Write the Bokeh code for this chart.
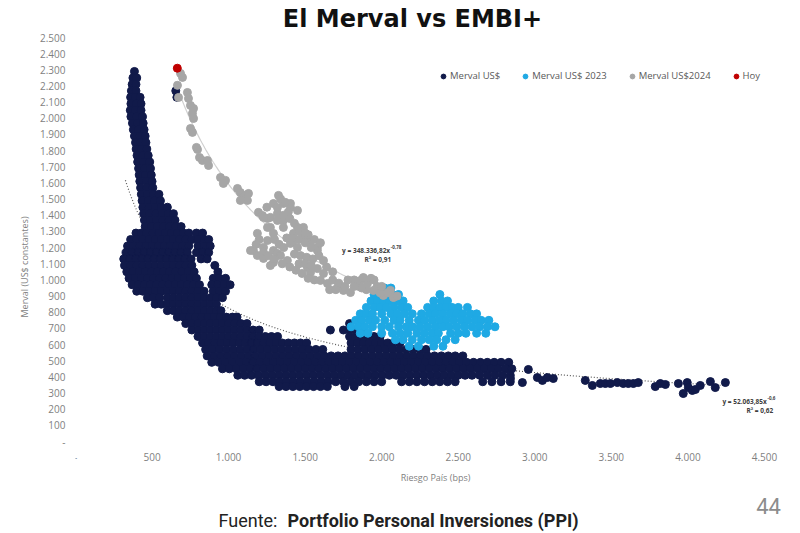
import numpy as np
from bokeh.plotting import figure
from bokeh.models import Range1d, FixedTicker, Label, Legend, LegendItem
from bokeh.embed import file_html
from bokeh.resources import INLINE

# ---------------- data ----------------
TITLE = "El Merval vs EMBI+"
X_LABEL = "Riesgo País (bps)"
Y_LABEL = "Merval (US$ constantes)"
SOURCE_PREFIX = "Fuente:"
SOURCE_NAME = "Portfolio Personal Inversiones (PPI)"
PAGE_NUMBER = "44"
SERIES_NAMES = ["Merval US$", "Merval US$ 2023", "Merval US$2024", "Hoy"]

x_ticks = [0, 500, 1000, 1500, 2000, 2500, 3000, 3500, 4000, 4500]
x_tick_labels = ["-", "500", "1.000", "1.500", "2.000", "2.500", "3.000", "3.500", "4.000", "4.500"]
y_ticks = list(range(0, 2600, 100))
y_tick_labels = ["-", "100", "200", "300", "400", "500", "600", "700", "800", "900",
                 "1.000", "1.100", "1.200", "1.300", "1.400", "1.500", "1.600", "1.700",
                 "1.800", "1.900", "2.000", "2.100", "2.200", "2.300", "2.400", "2.500"]

# Merval US$ (dark): riesgo-país values grouped by Merval level
merval_levels = [2290, 2250, 2210, 2170, 2130, 2090, 2050, 2010, 1970, 1930, 1890, 1850,
                 1810, 1770, 1730, 1690, 1650, 1610, 1570, 1530, 1490, 1450, 1410, 1370,
                 1330, 1290, 1250, 1210, 1170, 1130, 1090, 1050, 1010, 970, 930, 890, 850,
                 810, 770, 730, 690, 650, 610, 570, 530, 490, 450, 410, 370, 340]
merval_rows = [
    [385],
    [375, 400],
    [370, 395],
    [365, 395, 655],
    [360, 392, 422, 662],
    [362, 397, 428],
    [358, 392, 428],
    [362, 400, 438],
    [372, 405, 442],
    [378, 412, 448],
    [385, 420, 455],
    [392, 426, 460],
    [396, 432, 466],
    [402, 440, 475],
    [406, 446, 485],
    [412, 452, 490],
    [416, 456, 495],
    [420, 462, 500],
    [425, 466, 505],
    [430, 470, 510, 545],
    [435, 475, 515, 555],
    [440, 480, 520, 560, 600],
    [445, 485, 525, 565, 605, 640],
    [450, 490, 530, 570, 610, 650],
    [455, 495, 535, 575, 615, 655, 690],
    [395, 430, 465, 505, 545, 585, 625, 665, 705, 740, 790, 830],
    [360, 400, 440, 480, 520, 560, 600, 640, 680, 720, 760, 800, 840, 870],
    [340, 380, 420, 460, 500, 540, 580, 620, 660, 700, 740, 800, 840, 880],
    [330, 370, 410, 450, 490, 530, 570, 610, 650, 690, 730, 790, 830, 870],
    [315, 355, 395, 435, 475, 515, 555, 595, 635, 675, 715, 755, 820, 860],
    [320, 360, 400, 440, 480, 520, 560, 600, 640, 680, 720, 760, 910],
    [335, 375, 415, 455, 495, 535, 575, 615, 655, 695, 735, 775, 930],
    [350, 390, 430, 470, 510, 550, 590, 630, 670, 710, 750, 790, 900, 940, 980],
    [370, 410, 450, 490, 530, 570, 610, 650, 690, 730, 770, 810, 890, 930, 970, 1010],
    [400, 440, 480, 520, 560, 600, 640, 680, 720, 760, 800, 840, 900, 940, 980],
    [470, 510, 550, 600, 640, 680, 720, 760, 800, 840, 880, 920, 960],
    [520, 560, 600, 640, 680, 720, 760, 800, 840, 880, 920],
    [600, 640, 680, 720, 760, 800, 840, 880, 920, 950],
    [665, 705, 745, 785, 825, 865, 905, 945, 985, 1025, 1055],
    [720, 760, 800, 840, 880, 920, 960, 1000, 1040, 1080, 1120, 1790],
    [760, 800, 840, 880, 920, 960, 1000, 1040, 1080, 1120, 1160, 1200, 1665, 1750, 1790, 1830, 1870],
    [800, 840, 880, 920, 960, 1000, 1040, 1080, 1120, 1160, 1200, 1240, 1280, 1320,
     1790, 1830, 1870, 1910, 1950, 1990],
    [830, 870, 910, 950, 990, 1030, 1070, 1110, 1150, 1190, 1230, 1270, 1310, 1350, 1390,
     1430, 1470, 1510, 1800, 1840, 1880, 1920, 1960, 2000, 2040, 2080, 2120],
    [850, 895, 940, 985, 1030, 1075, 1120, 1165, 1210, 1255, 1300, 1345, 1390, 1435, 1480,
     1525, 1570, 1615, 1800, 1845, 1890, 1935, 1980, 2025, 2070, 2115, 2160, 2205, 2250, 2290],
    [860, 905, 950, 995, 1040, 1085, 1130, 1175, 1220, 1265, 1310, 1355, 1400, 1445, 1490,
     1535, 1580, 1625, 1670, 1715, 1760, 1805, 1850, 1895, 1940, 1985, 2030, 2075, 2120,
     2165, 2210, 2255, 2300, 2345, 2390, 2435, 2480, 2530],
    [890, 935, 980, 1025, 1070, 1115, 1160, 1205, 1250, 1295, 1340, 1385, 1430, 1475, 1520,
     1565, 1610, 1655, 1700, 1745, 1790, 1835, 1880, 1925, 1970, 2015, 2060, 2105, 2150,
     2195, 2240, 2285, 2330, 2375, 2420, 2465, 2510, 2555, 2600, 2645, 2690, 2735, 2780, 2830],
    [960, 1005, 1050, 1095, 1140, 1185, 1230, 1275, 1320, 1365, 1410, 1455, 1500, 1545,
     1590, 1635, 1680, 1725, 1770, 1815, 1860, 1905, 1950, 1995, 2040, 2085, 2130, 2175,
     2220, 2265, 2310, 2355, 2400, 2445, 2490, 2535, 2580, 2625, 2670, 2715, 2760, 2810, 2850],
    [1060, 1105, 1150, 1195, 1240, 1285, 1330, 1375, 1420, 1465, 1510, 1555, 1600, 1645,
     1690, 1735, 1780, 1825, 1870, 1915, 1960, 2005, 2050, 2095, 2140, 2185, 2230, 2275,
     2320, 2365, 2410, 2455, 2500, 2545, 2590, 2640, 2690, 2740, 2790, 2840],
    [1200, 1245, 1290, 1335, 1380, 1425, 1470, 1515, 1560, 1605, 1650, 1700, 1750, 1800,
     1850, 1900, 1950, 2000, 2130, 2180, 2230, 2280, 2330, 2380, 2430, 2480, 2660, 2720,
     2780, 2840],
    [1330, 1375, 1420, 1465, 1510, 1555, 1600, 1645, 1760, 1820],
]
# Merval US$ tail (high riesgo país)
merval_tail_x = [2841, 2919, 2958, 3017, 3050, 3082, 3121, 3330, 3376, 3428, 3461, 3494,
                 3539, 3578, 3611, 3644, 3676, 3787, 3820, 3853, 3938, 3970, 3996, 4003,
                 4029, 4049, 4081, 4147, 4179, 4245]
merval_tail_y = [390, 365, 446, 396, 378, 396, 390, 378, 347, 359, 359, 359,
                 365, 359, 359, 359, 365, 340, 359, 353, 359, 297, 365, 334,
                 316, 322, 347, 371, 334, 365]

# Merval US$ 2023 (light blue)
m2023_levels = [950, 910, 870, 830, 790, 750, 710, 670, 630, 590]
m2023_rows = [
    [1980, 2020, 2060],
    [1950, 1990, 2030, 2070, 2110, 2380],
    [1930, 1970, 2010, 2050, 2100, 2140, 2340, 2390, 2430],
    [1900, 1950, 1990, 2030, 2080, 2130, 2170, 2300, 2340, 2380, 2420, 2460, 2500, 2560],
    [1860, 1900, 1940, 2000, 2060, 2100, 2150, 2200, 2260, 2310, 2350, 2400, 2450, 2490,
     2530, 2580, 2620],
    [1830, 1870, 1920, 1960, 2020, 2080, 2120, 2180, 2240, 2280, 2330, 2380, 2420, 2470,
     2520, 2560, 2610, 2650, 2700],
    [1800, 1850, 1890, 1940, 2000, 2050, 2110, 2160, 2200, 2250, 2300, 2350, 2400, 2440,
     2490, 2540, 2590, 2640, 2690, 2740],
    [1860, 1910, 2000, 2070, 2120, 2170, 2230, 2280, 2330, 2370, 2450, 2500, 2550, 2620, 2680],
    [2090, 2140, 2200, 2260, 2310, 2360, 2420, 2480],
    [2180, 2240, 2340, 2400],
]

# Merval US$2024 (gray)
m2024_x = [686, 699, 666, 673, 731, 738, 751, 771, 764, 771, 751, 764, 790, 797, 810, 829,
           862, 869, 947, 980, 966, 1058, 1077, 1097, 1110, 1130, 1123, 1077, 1195, 1221,
           1254, 1273, 1326, 1293, 1358, 1404, 1319, 1404, 1319, 1450, 1319, 1358, 1254,
           1273, 1358, 1450, 1489, 1293, 1188, 1424, 1489, 1254, 1535, 1404, 1580, 1450,
           1228, 1162, 1143, 1293, 1580, 1228, 1319, 1188, 1339, 1228, 1384, 1293, 1273,
           1515, 1535, 1600, 1646, 1711, 1750, 1796, 1861, 1907, 1946, 2011, 2077, 1880,
           2057, 1228, 1480, 1520, 1560, 1600, 1640, 1680, 1820, 1850, 1900, 1930, 1970,
           1990, 1480, 1520, 1560, 1660, 1380, 1420, 1250,
           1340, 1370, 1390, 1360, 1400, 1430, 1460, 1500, 1420, 1460, 1500, 1540, 1430,
           1470, 1510, 1550, 1590, 1620, 1460, 1500, 1540, 1580, 1620, 1300, 1330, 1360,
           1200, 1180, 1260, 1300, 1350, 1400, 1440, 1680, 1720, 1760, 1700, 1780, 1820,
           1870, 1950, 2000, 2040, 2100]
m2024_y = [2278, 2253, 2204, 2129, 2160, 2123, 2080, 2061, 2030, 1999, 1937, 1913, 1820,
           1807, 1758, 1739, 1739, 1708, 1634, 1616, 1597, 1566, 1541, 1510, 1523, 1535,
           1492, 1492, 1418, 1399, 1380, 1387, 1523, 1473, 1473, 1473, 1448, 1448, 1411,
           1430, 1368, 1368, 1325, 1325, 1325, 1325, 1325, 1288, 1288, 1288, 1263, 1244,
           1244, 1226, 1201, 1201, 1201, 1182, 1182, 1182, 1182, 1170, 1164, 1151, 1151,
           1133, 1120, 1108, 1089, 1077, 1046, 997, 978, 953, 935, 922, 997, 978, 935, 904,
           891, 1015, 935, 1387, 1300, 1280, 1250, 1230, 1080, 1050, 1000, 960, 940, 1010,
           960, 920, 1040, 1010, 1000, 940, 1260, 1240, 1450,
           1500, 1480, 1420, 1400, 1380, 1350, 1300, 1290, 1260, 1250, 1230, 1200, 1160,
           1150, 1140, 1130, 1150, 1120, 1100, 1100, 1090, 1070, 1040, 1250, 1220, 1200,
           1250, 1220, 1150, 1130, 1100, 1080, 1060, 1000, 980, 960, 940, 1000, 960,
           950, 1000, 960, 920, 900]

# Hoy (today)
hoy_x = [665]
hoy_y = [2310]

# Power trend lines shown on the chart: y = a * x^b
trend_dark_a, trend_dark_b = 52063.85, -0.60
trend_dark_range = (326, 4250)
trend_gray_a, trend_gray_b = 348336.82, -0.78
trend_gray_range = (650, 1900)

# ---------------- build ----------------
def expand(levels, rows):
    xs, ys = [], []
    for lvl, row in zip(levels, rows):
        xs.extend(row)
        ys.extend([lvl] * len(row))
    return xs, ys

dark_x, dark_y = expand(merval_levels, merval_rows)
dark_x += merval_tail_x
dark_y += merval_tail_y
blue_x, blue_y = expand(m2023_levels, m2023_rows)

DARK = "#111a4a"
BLUE = "#1fa9e4"
GRAY = "#a6a6a6"
RED = "#c00000"
TICK_GRAY = "#7f7f7f"
FONT = "Open Sans"
MS = 8

# frame spans the full height so that title and source can sit inside it
p = figure(width=800, height=533, output_backend="svg", toolbar_location=None,
           x_range=Range1d(0, 4703), y_range=Range1d(-569, 2729),
           min_border_left=75, min_border_right=5, min_border_top=0, min_border_bottom=0)
p.outline_line_color = None
p.xgrid.grid_line_color = None
p.ygrid.grid_line_color = None
p.background_fill_color = "white"
p.border_fill_color = "white"

for ax in (p.xaxis[0], p.yaxis[0]):
    ax.axis_line_color = None
    ax.major_tick_line_color = None
    ax.minor_tick_line_color = None
    ax.major_tick_out = 0
    ax.major_tick_in = 0
    ax.minor_tick_out = 0
    ax.major_label_text_color = TICK_GRAY
    ax.major_label_text_font = FONT
    ax.major_label_text_font_size = "10px"
    ax.axis_label_text_color = TICK_GRAY
    ax.axis_label_text_font = FONT
    ax.axis_label_text_font_size = "9px"
    ax.axis_label_text_font_style = "normal"

p.xaxis.fixed_location = 0
p.xaxis.ticker = FixedTicker(ticks=x_ticks)
p.xaxis.major_label_overrides = dict(zip(x_ticks, x_tick_labels))
p.xaxis.axis_label = X_LABEL
p.xaxis.major_label_standoff = 11
p.xaxis.axis_label_standoff = 7
p.yaxis.ticker = FixedTicker(ticks=y_ticks)
p.yaxis.major_label_overrides = dict(zip(y_ticks, y_tick_labels))
p.yaxis.axis_label = Y_LABEL
p.yaxis.major_label_standoff = 10
p.yaxis.axis_label_standoff = 6

# trend lines (under the points)
tx = np.linspace(*trend_dark_range, 300)
p.line(tx, trend_dark_a * tx ** trend_dark_b, line_color="#595959", line_width=1.2,
       line_dash="1 2")
gx = np.linspace(*trend_gray_range, 200)
p.line(gx, trend_gray_a * gx ** trend_gray_b, line_color="#d0d0d0", line_width=1.2)

r_dark = p.scatter(dark_x, dark_y, size=MS, fill_color=DARK, line_color=DARK)
r_blue = p.scatter(blue_x, blue_y, size=MS, fill_color=BLUE, line_color=BLUE)
r_gray = p.scatter(m2024_x, m2024_y, size=MS, fill_color=GRAY, line_color=GRAY)
r_hoy = p.scatter(hoy_x, hoy_y, size=MS, fill_color=RED, line_color=RED)

legend = Legend(items=[LegendItem(label=SERIES_NAMES[0], renderers=[r_dark]),
                       LegendItem(label=SERIES_NAMES[1], renderers=[r_blue]),
                       LegendItem(label=SERIES_NAMES[2], renderers=[r_gray]),
                       LegendItem(label=SERIES_NAMES[3], renderers=[r_hoy])],
                orientation="horizontal", location=(362, 451),
                glyph_width=12, glyph_height=12, label_height=12,
                label_text_font=FONT, label_text_font_size="9.5px", label_text_color="#595959",
                label_standoff=1, spacing=19, padding=0, margin=0,
                border_line_color=None, background_fill_alpha=0)
p.add_layout(legend, "center")

# equation labels of the trend lines
EQ_COLOR = "#404040"
def eq(x, y, txt, size="6.5px", align="left"):
    p.add_layout(Label(x=x, y=y, text=txt, text_font=FONT, text_font_size=size,
                       text_color=EQ_COLOR, text_align=align, text_baseline="middle",
                       text_font_style="bold"))

eq(2055, 1182, "y = 348.336,82x", align="right")
eq(2060, 1205, "-0,78", size="4.5px")
eq(1975, 1127, "R² = 0,91", align="center")
eq(4515, 248, "y = 52.063,85x", align="right")
eq(4520, 271, "-0,6", size="4.5px")
eq(4470, 192, "R² = 0,62", align="center")

# title, source and page number (screen units, relative to the frame's bottom-left)
p.add_layout(Label(x=337, y=515, x_units="screen", y_units="screen", text=TITLE,
                   text_font="DejaVu Sans", text_font_size="24px", text_font_style="bold",
                   text_color="#111111", text_align="center", text_baseline="middle"))
p.add_layout(Label(x=143, y=13, x_units="screen", y_units="screen", text=SOURCE_PREFIX,
                   text_font="Roboto", text_font_size="18px", text_color="#222222",
                   text_align="left", text_baseline="middle"))
p.add_layout(Label(x=212, y=13, x_units="screen", y_units="screen", text=SOURCE_NAME,
                   text_font="Roboto", text_font_size="18px", text_font_style="bold",
                   text_color="#222222", text_align="left", text_baseline="middle"))
p.add_layout(Label(x=693, y=28, x_units="screen", y_units="screen", text=PAGE_NUMBER,
                   text_font="Roboto", text_font_size="22px", text_color="#8c8c8c",
                   text_align="center", text_baseline="middle"))

open("out.html", "w").write(file_html(p, INLINE))
